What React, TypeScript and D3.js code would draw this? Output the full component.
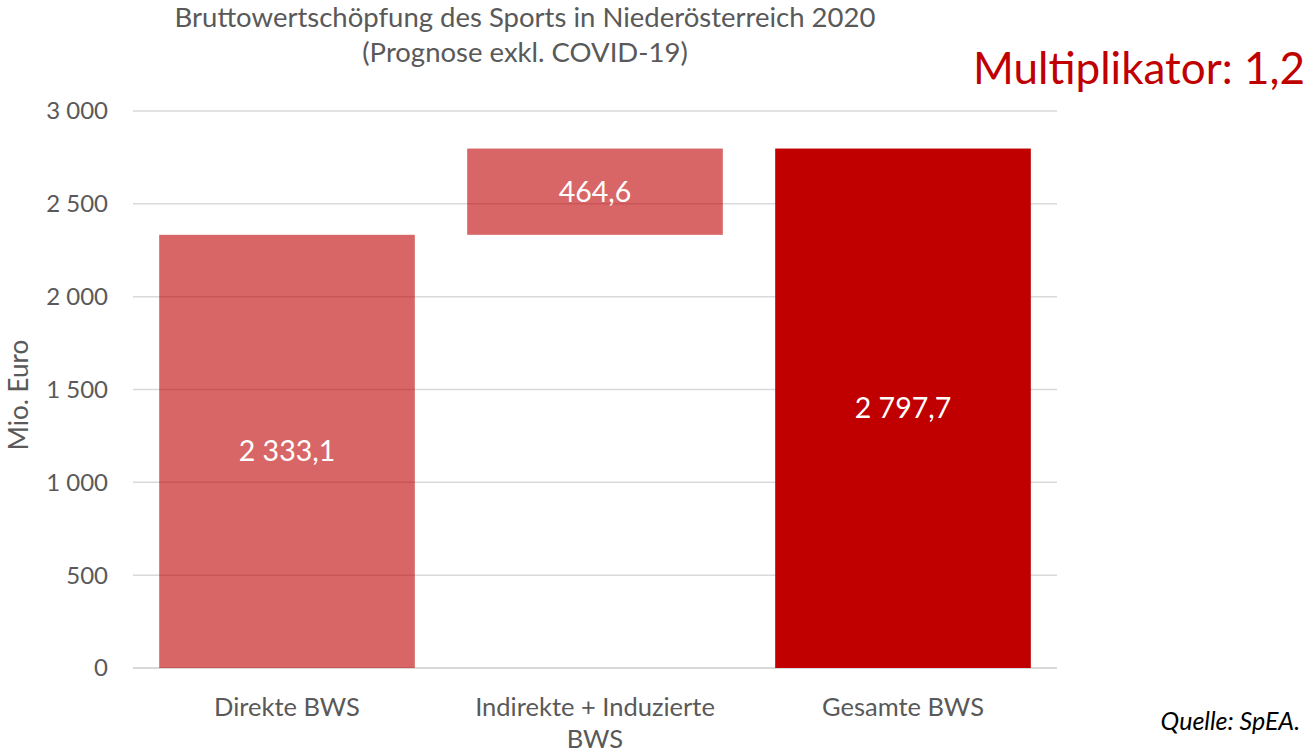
import * as d3 from "d3";
import { useEffect, useRef } from "react";

const categories = ["Direkte BWS", "Indirekte + Induzierte BWS", "Gesamte BWS"];
const labelLines = [["Direkte BWS"], ["Indirekte + Induzierte", "BWS"], ["Gesamte BWS"]];
const barBase = [0, 2333.1, 0];
const barValue = [2333.1, 464.6, 2797.7];
const barLabels = ["2 333,1", "464,6", "2 797,7"];
const yTicks = [0, 500, 1000, 1500, 2000, 2500, 3000];

const FONT = "Lato, 'Open Sans', sans-serif";

export default function App() {
  const svgRef = useRef<SVGSVGElement | null>(null);

  useEffect(() => {
    const width = 1309;
    const height = 754;
    const svg = d3.select(svgRef.current);
    svg.selectAll("*").remove();

    const x = d3
      .scaleBand<string>()
      .domain(categories)
      .range([133, 1057])
      .paddingInner(0.17)
      .paddingOuter(0.085);
    const y = d3.scaleLinear().domain([0, 3000]).range([668, 111]);

    // title
    const title = svg
      .append("text")
      .attr("text-anchor", "middle")
      .attr("fill", "#595959")
      .style("font", `27.5px ${FONT}`);
    title.append("tspan").attr("x", 525).attr("y", 27).text("Bruttowertschöpfung des Sports in Niederösterreich 2020");
    title.append("tspan").attr("x", 525).attr("y", 62).text("(Prognose exkl. COVID-19)");

    // gridlines
    svg
      .selectAll("line.grid")
      .data(yTicks)
      .join("line")
      .attr("class", "grid")
      .attr("x1", 133)
      .attr("x2", 1057)
      .attr("y1", (d) => y(d))
      .attr("y2", (d) => y(d))
      .attr("stroke", "#d9d9d9")
      .attr("stroke-width", (d) => (d === 0 ? 2 : 1.5));

    svg
      .selectAll("text.ytick")
      .data(yTicks)
      .join("text")
      .attr("class", "ytick")
      .attr("x", 108)
      .attr("y", (d) => y(d))
      .attr("dy", "0.35em")
      .attr("text-anchor", "end")
      .attr("fill", "#595959")
      .style("font", `24px ${FONT}`)
      .text((d) => d3.format(",")(d).replace(",", " "));

    // bars
    svg
      .selectAll("rect.bar")
      .data(categories)
      .join("rect")
      .attr("class", "bar")
      .attr("x", (d) => x(d)!)
      .attr("width", x.bandwidth())
      .attr("y", (d, i) => y(barBase[i] + barValue[i]))
      .attr("height", (d, i) => y(barBase[i]) - y(barBase[i] + barValue[i]))
      .attr("fill", "#C00000")
      .attr("fill-opacity", (d, i) => (i === 2 ? 1 : 0.6));

    svg
      .selectAll("text.val")
      .data(categories)
      .join("text")
      .attr("class", "val")
      .attr("x", (d) => x(d)! + x.bandwidth() / 2)
      .attr("y", (d, i) => y(barBase[i] + barValue[i] / 2))
      .attr("dy", "0.35em")
      .attr("text-anchor", "middle")
      .attr("fill", "#ffffff")
      .style("font", `28.5px ${FONT}`)
      .text((d, i) => barLabels[i]);

    // x labels
    const xl = svg
      .selectAll("text.xlab")
      .data(categories)
      .join("text")
      .attr("class", "xlab")
      .attr("text-anchor", "middle")
      .attr("fill", "#595959")
      .style("font", `25.5px ${FONT}`);
    xl.each(function (d, i) {
      const t = d3.select(this);
      labelLines[i].forEach((line, j) => {
        t.append("tspan")
          .attr("x", x(d)! + x.bandwidth() / 2)
          .attr("y", 716 + j * 32)
          .text(line);
      });
    });

    // y axis title
    svg
      .append("text")
      .attr("transform", `translate(28,395) rotate(-90)`)
      .attr("text-anchor", "middle")
      .attr("fill", "#595959")
      .style("font", `26px ${FONT}`)
      .text("Mio. Euro");

    svg
      .append("text")
      .attr("x", 1305)
      .attr("y", 84)
      .attr("text-anchor", "end")
      .attr("fill", "#C00000")
      .style("font", `44px ${FONT}`)
      .text("Multiplikator: 1,2");

    svg
      .append("text")
      .attr("x", 1300)
      .attr("y", 730)
      .attr("text-anchor", "end")
      .attr("fill", "#000000")
      .style("font", `italic 25px ${FONT}`)
      .text("Quelle: SpEA.");

    svg.attr("width", width).attr("height", height);
  }, []);

  return (
    <svg
      ref={svgRef}
      width={1309}
      height={754}
      style={{ position: "absolute", left: 0, top: 0, background: "#fff" }}
    />
  );
}
